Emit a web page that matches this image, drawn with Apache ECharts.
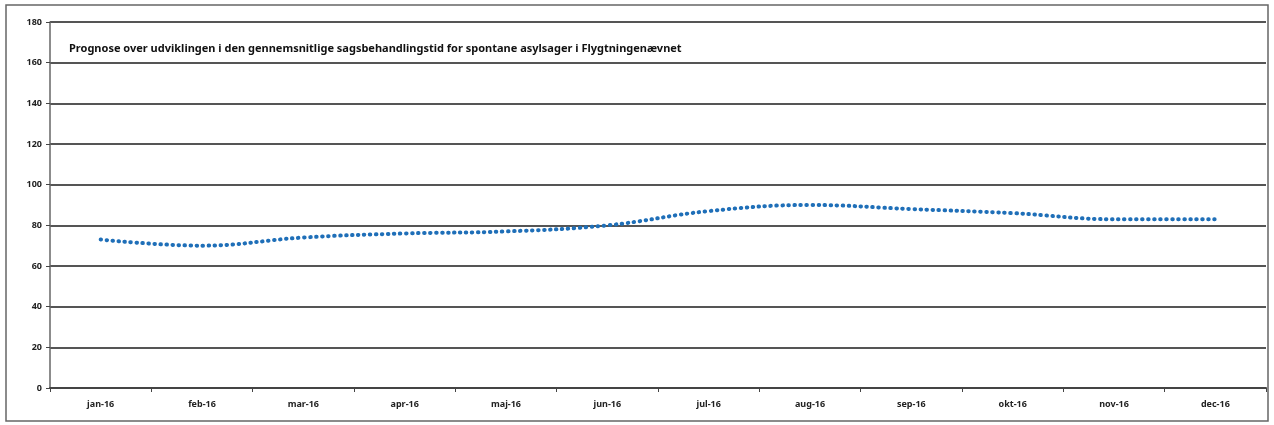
<!DOCTYPE html>
<html>
<head>
<meta charset="utf-8">
<script src="https://cdn.jsdelivr.net/npm/echarts@6/dist/echarts.min.js"></script>
<style>
  html, body { margin: 0; padding: 0; background: #fff; }
  #chart { width: 1274px; height: 425px; }
</style>
</head>
<body>
<div id="chart"></div>
<script>
// måneder og prognose (dage)
const months = ['jan-16', 'feb-16', 'mar-16', 'apr-16', 'maj-16', 'jun-16', 'jul-16', 'aug-16', 'sep-16', 'okt-16', 'nov-16', 'dec-16'];
const prognose = [73, 70, 74, 76, 77, 80, 87, 90, 88, 86, 83, 83];
const yTicks = [0, 20, 40, 60, 80, 100, 120, 140, 160, 180];

const chart = echarts.init(document.getElementById('chart'));
chart.setOption({
    animation: false,
    title: {
        text: 'Prognose over udviklingen i den gennemsnitlige sagsbehandlingstid for spontane asylsager i Flygtningenævnet',
        left: 64,
        top: 38,
        textStyle: { fontFamily: 'Noto Sans', fontSize: 11, fontWeight: 'bold', color: '#111' }
    },
    graphic: [{
        type: 'rect',
        shape: { x: 6, y: 5, width: 1262, height: 416 },
        style: { fill: 'none', stroke: '#666', lineWidth: 1.5 }
    }],
    grid: { left: 50, right: 8, top: 22, bottom: 37 },
    xAxis: {
        type: 'category',
        data: months,
        boundaryGap: true,
        axisLine: { lineStyle: { color: '#444', width: 2 } },
        axisTick: { show: true, length: 4, lineStyle: { color: '#444' } },
        axisLabel: { fontFamily: 'Noto Sans', fontSize: 9, fontWeight: 'bold', color: '#222', margin: 12 }
    },
    yAxis: {
        type: 'value',
        min: yTicks[0],
        max: yTicks[yTicks.length - 1],
        interval: 20,
        axisLine: { show: true, lineStyle: { color: '#666', width: 1.5 } },
        axisTick: { show: true, length: 4, lineStyle: { color: '#444' } },
        axisLabel: { fontFamily: 'Noto Sans', fontSize: 9, fontWeight: 'bold', color: '#222', margin: 8 },
        splitLine: { lineStyle: { color: '#555', width: 2 } }
    },
    series: [{
        type: 'line',
        data: prognose,
        smooth: 0.4,
        showSymbol: false,
        lineStyle: { color: '#1f6fb8', width: 4, type: [0.5, 5.5], cap: 'round' }
    }]
});
</script>
</body>
</html>
